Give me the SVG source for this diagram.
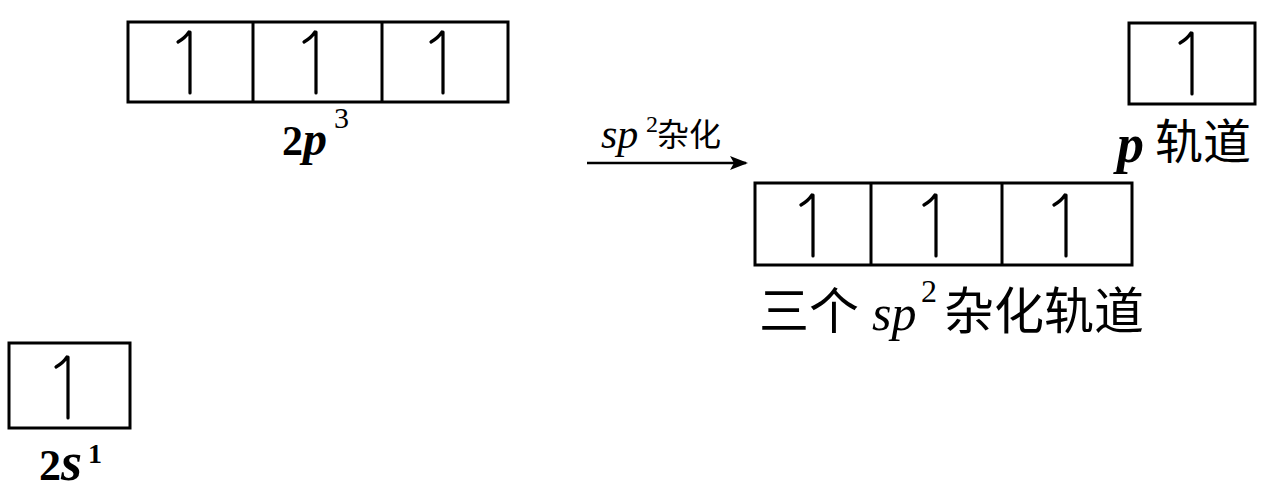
<svg xmlns="http://www.w3.org/2000/svg" xmlns:xlink="http://www.w3.org/1999/xlink" width="1269" height="501" viewBox="0 0 1269 501">
<style>
.box{fill:none;stroke:#000;stroke-width:3}
.div{stroke:#000;stroke-width:3}
.e{fill:none;stroke:#000;stroke-width:3.2;stroke-linecap:round;stroke-linejoin:round}
.lat{font-family:"Liberation Serif","Times New Roman",serif;fill:#000}
.cjk{font-family:"Noto Sans CJK SC","Noto Sans",sans-serif;fill:#000}
.conn{stroke:#000;stroke-width:2.5;fill:none}
</style>
<defs>
<path id="el" d="M0,0 V61 M-1,0 Q-5,6 -12,10"/>
<marker id="ah" markerWidth="18" markerHeight="14" refX="16" refY="7" orient="auto" markerUnits="userSpaceOnUse">
<path d="M0,0 L18,7 L0,14 L4,7 Z" fill="#000"/>
</marker>
</defs>
<rect width="1269" height="501" fill="#fff"/>

<g id="orbital-2p">
<rect class="box" x="128" y="22" width="380" height="80"/>
<line class="div" x1="253" y1="22" x2="253" y2="102"/>
<line class="div" x1="382" y1="22" x2="382" y2="102"/>
<use href="#el" class="e" x="190" y="32"/>
<use href="#el" class="e" x="316" y="32"/>
<use href="#el" class="e" x="443" y="32"/>
<text class="lat" x="282" y="155" font-size="42" font-weight="bold">2<tspan font-style="italic" font-size="48">p</tspan><tspan x="334" y="128" font-size="30" font-weight="normal">3</tspan></text>
</g>

<g id="orbital-2s">
<rect class="box" x="9" y="343" width="121" height="85"/>
<use href="#el" class="e" x="68" y="357"/>
<text class="lat" x="39" y="480" font-size="44" font-weight="bold">2<tspan font-style="italic" font-size="54">s</tspan><tspan x="88" y="463" font-size="28">1</tspan></text>
</g>

<g id="orbital-p">
<rect class="box" x="1129" y="23" width="126" height="81"/>
<use href="#el" class="e" x="1192" y="33"/>
<text x="1117" y="162"><tspan class="lat" font-size="54" font-weight="bold" font-style="italic">p</tspan><tspan class="cjk" x="1155" y="159" font-size="48">轨道</tspan></text>
</g>

<g id="orbital-sp2">
<rect class="box" x="755" y="183" width="377" height="82"/>
<line class="div" x1="871" y1="183" x2="871" y2="265"/>
<line class="div" x1="1002" y1="183" x2="1002" y2="265"/>
<use href="#el" class="e" x="813" y="195"/>
<use href="#el" class="e" x="936" y="195"/>
<use href="#el" class="e" x="1066" y="195"/>
<text y="329"><tspan class="cjk" x="759" font-size="50">三个</tspan><tspan class="lat" x="872" y="330" font-size="50" font-style="italic">sp</tspan><tspan class="lat" x="921" y="302" font-size="32">2</tspan><tspan class="cjk" x="944" y="329" font-size="50">杂化轨道</tspan></text>
</g>

<g id="connectors">
<line class="conn" x1="587" y1="163" x2="746" y2="163" marker-end="url(#ah)"/>
<text y="148"><tspan class="lat" x="601" font-size="42" font-style="italic">sp</tspan><tspan class="lat" x="646" y="132" font-size="24">2</tspan><tspan class="cjk" x="657" y="146" font-size="32">杂化</tspan></text>
</g>
</svg>
